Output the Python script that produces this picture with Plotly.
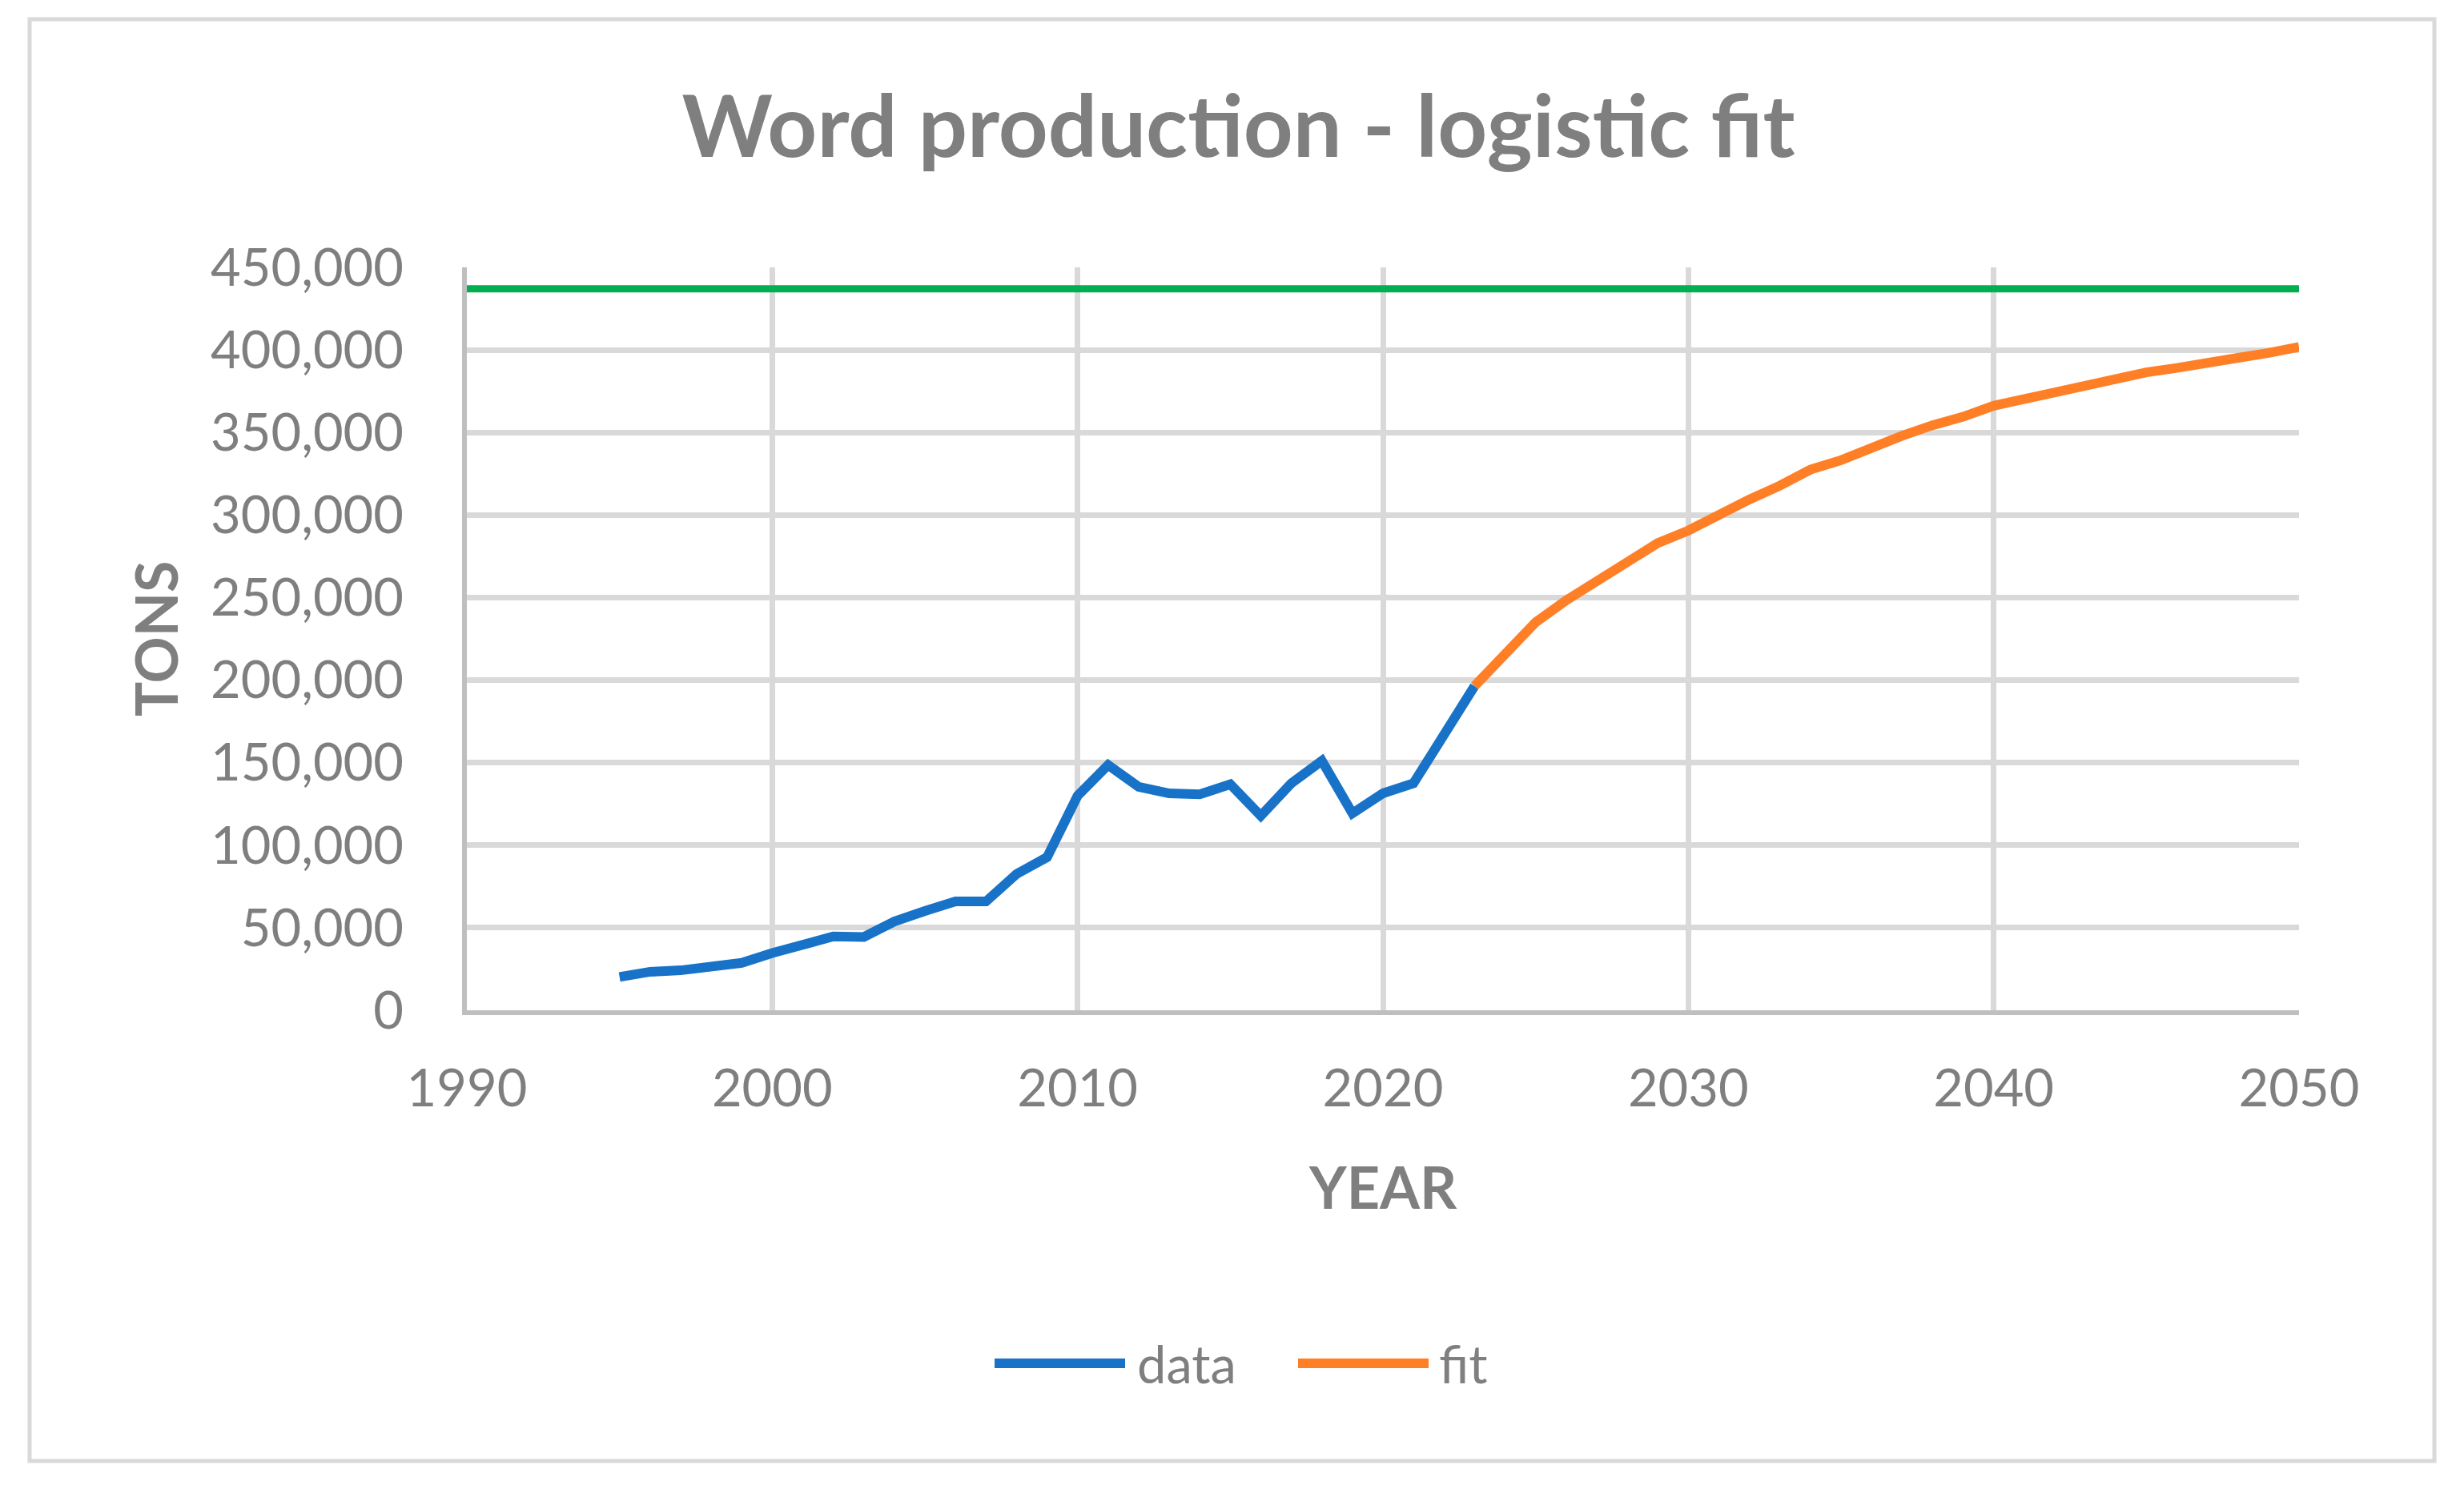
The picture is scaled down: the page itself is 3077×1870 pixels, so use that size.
import plotly.graph_objects as go

# ---- data ----
data_years = list(range(1995, 2024))
data_tons = [20200, 23300, 24200, 26600, 28700, 34700, 39900, 44700, 44400, 53800,
             60100, 65900, 65900, 82500, 92700, 129900, 148600, 135300, 131400, 130800,
             136900, 117800, 137500, 151100, 119300, 131400, 137500, 167700, 196400]

fit_years = list(range(2023, 2051))
fit_tons = [196400, 216000, 235000, 248300, 259800, 270400, 283000, 290600, 300600, 309400,
            317800, 327500, 333200, 340800, 348000, 354400, 359500, 366200, 370400, 374600,
            378500, 382800, 386400, 389100, 392700, 395200, 398200, 401800]

limit_years = [1990, 2050]
limit_tons = [437000, 437000]

x_ticks = [1990, 2000, 2010, 2020, 2030, 2040, 2050]
y_ticks = [0, 50000, 100000, 150000, 200000, 250000, 300000, 350000, 400000, 450000]

TEXT = "#7F7F7F"
GRID = "#D9D9D9"
FONT = "Lato"
BLUE = "#1873C8"
ORANGE = "#FF7F27"
GREEN = "#00B050"

fig = go.Figure()
fig.add_trace(go.Scatter(x=limit_years, y=limit_tons, mode="lines", name="limit",
                         line=dict(color=GREEN, width=9), showlegend=False))
fig.add_trace(go.Scatter(x=data_years, y=data_tons, mode="lines", name="data",
                         line=dict(color=BLUE, width=12), showlegend=False))
fig.add_trace(go.Scatter(x=fit_years, y=fit_tons, mode="lines", name="fit",
                         line=dict(color=ORANGE, width=12), showlegend=False))

W, H = 3077, 1870
OFF = 8  # page body margin
# target plot area in page pixels
PL, PR, PT, PB = 583, 2871, 334, 1262
L = PL - OFF
T = PT - OFF
R = W + OFF - PR
B = H + OFF - PB

fig.update_layout(
    width=W, height=H,
    margin=dict(l=L, r=R, t=T, b=B),
    paper_bgcolor="white", plot_bgcolor="white",
    font=dict(family=FONT, color=TEXT, size=64),
    title=dict(text="<b>Word production - logistic fit</b>", x=0.5, xanchor="center",
               y=1 - (158 - OFF) / H, yanchor="middle", yref="container",
               font=dict(family=FONT, size=108, color=TEXT)),
    showlegend=False,
)

fig.update_xaxes(range=[1990, 2050], tickvals=x_ticks, showgrid=True, gridcolor=GRID,
                 gridwidth=7, showline=True, linecolor="#BFBFBF", linewidth=6,
                 zeroline=False, ticks="", ticklabelstandoff=36,
                 tickfont=dict(family=FONT, size=65, color=TEXT))
fig.update_yaxes(range=[0, 450000], tickvals=y_ticks, tickformat=",", showgrid=True,
                 gridcolor=GRID, gridwidth=7, showline=True, linecolor="#BFBFBF",
                 linewidth=6, zeroline=False, ticks="", ticklabelstandoff=60,
                 tickfont=dict(family=FONT, size=65, color=TEXT))

pw = PR - PL
ph = PB - PT

def px_x(px):
    return (px - PL) / pw

def px_y(py):
    return (PB - py) / ph

# outer chart border
fig.add_shape(type="rect", xref="paper", yref="paper",
              x0=px_x(37), x1=px_x(3040), y0=px_y(1825), y1=px_y(24),
              line=dict(color=GRID, width=5), fillcolor="rgba(0,0,0,0)", layer="below")

# axis titles
fig.add_annotation(text="<b>YEAR</b>", xref="paper", yref="paper", x=0.5, y=px_y(1482),
                   showarrow=False, xanchor="center", yanchor="middle",
                   font=dict(family=FONT, size=72, color=TEXT))
fig.add_annotation(text="<b>TONS</b>", xref="paper", yref="paper", x=px_x(194), y=0.5,
                   showarrow=False, xanchor="center", yanchor="middle", textangle=-90,
                   font=dict(family=FONT, size=72, color=TEXT))

# legend
ly = px_y(1703)
fig.add_shape(type="line", xref="paper", yref="paper", x0=px_x(1242), x1=px_x(1405),
              y0=ly, y1=ly, line=dict(color=BLUE, width=12))
fig.add_annotation(text="data", xref="paper", yref="paper", x=px_x(1418), y=ly,
                   showarrow=False, xanchor="left", yanchor="middle",
                   font=dict(family=FONT, size=65, color=TEXT))
fig.add_shape(type="line", xref="paper", yref="paper", x0=px_x(1621), x1=px_x(1784),
              y0=ly, y1=ly, line=dict(color=ORANGE, width=12))
fig.add_annotation(text="fit", xref="paper", yref="paper", x=px_x(1795), y=ly,
                   showarrow=False, xanchor="left", yanchor="middle",
                   font=dict(family=FONT, size=65, color=TEXT))

fig.write_html("out.html")
